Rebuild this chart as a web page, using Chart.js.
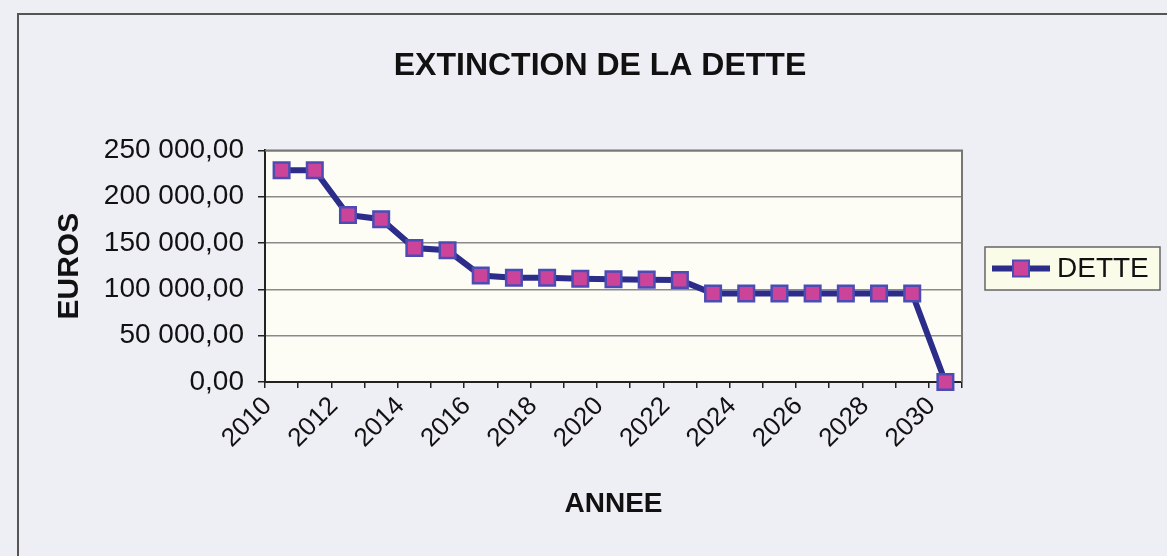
<!DOCTYPE html>
<html>
<head>
<meta charset="utf-8">
<script src="https://cdn.jsdelivr.net/npm/chart.js@4/dist/chart.umd.min.js"></script>
<style>
    html, body { margin: 0; padding: 0; background: #eeeef5; }
    #wrap { position: relative; width: 1167px; height: 556px; }
    canvas { position: absolute; left: 0; top: 0; }
</style>
</head>
<body>
<div id="wrap"><canvas id="detteChart" width="1167" height="556"></canvas></div>
<script>
const chartTitle = 'EXTINCTION DE LA DETTE';
const xTitle     = 'ANNEE';
const yTitle     = 'EUROS';
const seriesName = 'DETTE';

const years      = ['2010','2011','2012','2013','2014','2015','2016','2017','2018','2019','2020',
                    '2021','2022','2023','2024','2025','2026','2027','2028','2029','2030'];
const shownYears = ['2010','2012','2014','2016','2018','2020','2022','2024','2026','2028','2030'];
const dette      = [228500, 228500, 180300, 175700, 144600, 142200, 115000, 112500, 112500, 111500, 111000,
                    110500, 110000, 95500, 95500, 95500, 95500, 95500, 95500, 95500, 0];
const yTicks     = [0, 50000, 100000, 150000, 200000, 250000];

const LINE   = '#2c2c8a';
const MFILL  = '#cc4499';
const MEDGE  = '#4c4cb4';

Chart.defaults.font.family = '"Liberation Sans", Arial, sans-serif';
Chart.defaults.color = '#111';

// 250000 -> "250 000,00"
const fmtEuro = v => {
    const [i, d] = Number(v).toFixed(2).split('.');
    return i.replace(/\B(?=(\d{3})+(?!\d))/g, ' ') + ',' + d;
};

const frame = {
    id: 'frame',
    beforeDraw(chart) {
        const { ctx, chartArea: a } = chart;
        ctx.save();
        ctx.strokeStyle = '#555';
        ctx.lineWidth = 2;
        ctx.beginPath();
        ctx.moveTo(18, 556); ctx.lineTo(18, 14); ctx.lineTo(1167, 14);
        ctx.stroke();
        ctx.fillStyle = '#fdfdf6';
        ctx.fillRect(a.left, a.top, a.right - a.left, a.bottom - a.top);
        ctx.restore();
    },
    beforeDatasetsDraw(chart) {
        const { ctx, chartArea: a } = chart;
        ctx.save();
        ctx.strokeStyle = '#777';
        ctx.lineWidth = 2;
        ctx.beginPath();
        ctx.moveTo(a.left, a.top); ctx.lineTo(a.right, a.top); ctx.lineTo(a.right, a.bottom);
        ctx.stroke();
        ctx.restore();
    },
    afterDraw(chart) {
        const { ctx } = chart;
        const ds = chart.data.datasets[0];
        const bx = 985, by = 247, bw = 175, bh = 43, cy = by + bh / 2;
        ctx.save();
        ctx.fillStyle = '#fbfbe9';
        ctx.strokeStyle = '#666';
        ctx.lineWidth = 1.5;
        ctx.fillRect(bx, by, bw, bh);
        ctx.strokeRect(bx, by, bw, bh);
        ctx.strokeStyle = ds.borderColor;
        ctx.lineWidth = ds.borderWidth;
        ctx.beginPath(); ctx.moveTo(992, cy); ctx.lineTo(1050, cy); ctx.stroke();
        ctx.fillStyle = ds.pointBackgroundColor;
        ctx.strokeStyle = ds.pointBorderColor;
        ctx.lineWidth = 2;
        ctx.fillRect(1013, cy - 8, 16, 16);
        ctx.strokeRect(1013, cy - 8, 16, 16);
        ctx.fillStyle = '#111';
        ctx.font = '28px "Liberation Sans", Arial, sans-serif';
        ctx.textBaseline = 'middle';
        ctx.fillText(ds.label, 1057, cy + 1);
        ctx.restore();
    }
};

new Chart(document.getElementById('detteChart'), {
    type: 'line',
    data: { labels: years, datasets: [{
        label: seriesName, data: dette, borderColor: LINE, borderWidth: 6, tension: 0,
        pointStyle: 'rect', pointRadius: 11, pointBackgroundColor: MFILL, pointBorderColor: MEDGE, pointBorderWidth: 2.5,
        clip: false
    }] },
    options: {
        responsive: false, animation: false,
        layout: { padding: { left: 33, right: 0, top: 0, bottom: 0 } },
        plugins: {
            legend: { display: false }, tooltip: { enabled: false },
            title: { display: true, text: chartTitle, font: { size: 32, weight: 'bold' }, color: '#111', padding: { top: 47, bottom: 65 } }
        },
        scales: {
            x: {
                offset: true,
                grid: { offset: true, drawOnChartArea: false, color: '#222', tickLength: 6, lineWidth: 1.5 },
                border: { color: '#222', width: 2 },
                ticks: { autoSkip: false, minRotation: 45, maxRotation: 45, labelOffset: -14, padding: 3, font: { size: 26 }, color: '#111',
                         callback: (v, i) => shownYears.includes(years[i]) ? years[i] : '' },
                title: { display: true, text: xTitle, font: { size: 28, weight: 'bold' }, color: '#111', padding: { top: 0, bottom: 35 } },
                afterFit: s => { s.height = 174; }
            },
            y: {
                min: 0, max: 250000,
                afterBuildTicks: s => { s.ticks = yTicks.map(v => ({ value: v })); },
                grid: { color: '#8a8a8a', lineWidth: 1.5, tickLength: 7, tickColor: '#222' },
                border: { color: '#222', width: 2 },
                ticks: { padding: 14, font: { size: 28 }, color: '#111', callback: v => fmtEuro(v) },
                title: { display: true, text: yTitle, font: { size: 30, weight: 'bold' }, color: '#111', padding: { top: 19, bottom: 0 } },
                afterFit: s => { s.width = 232; }
            },
            pad: {
                position: 'right', type: 'linear',
                grid: { display: false }, border: { display: false }, ticks: { display: false },
                afterFit: s => { s.width = 205; }
            }
        }
    },
    plugins: [frame]
});
</script>
</body>
</html>
